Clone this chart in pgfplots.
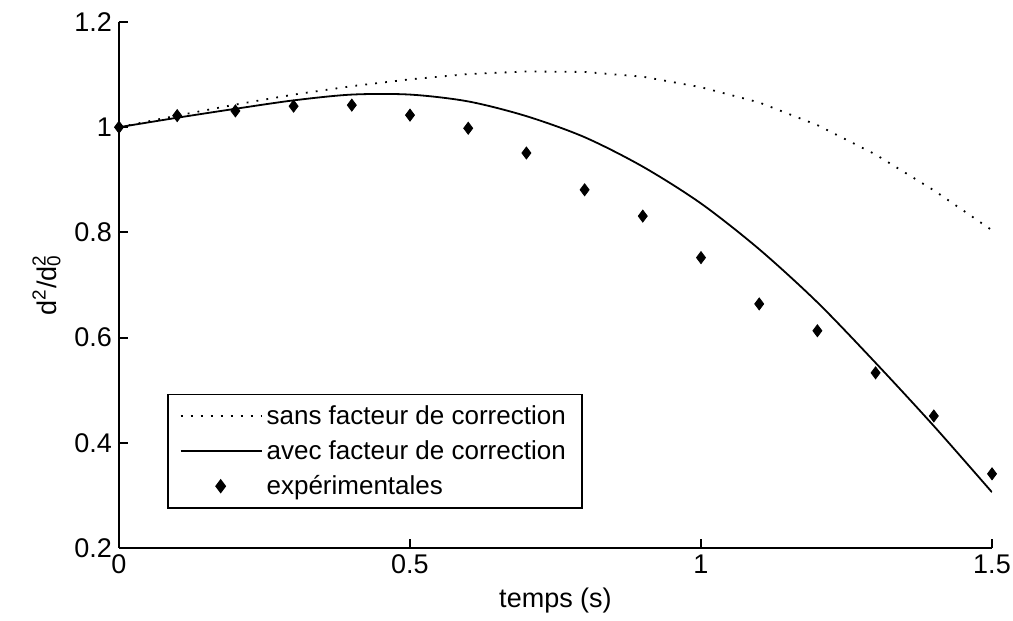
\documentclass[border=0pt]{standalone}
\usepackage{fontspec}
\setmainfont{Liberation Sans}
\usepackage{pgfplots}
\pgfplotsset{compat=1.18}
\pgfplotsset{
    lineleg/.style={legend image code/.code={\draw[##1] (0pt,0pt) -- (40.5pt,0pt);}},
    markleg/.style={legend image code/.code={\draw[##1] plot coordinates {(20pt,0pt)};}},
}

\begin{document}
\begin{tikzpicture}
\useasboundingbox (-59.5pt,-36.5pt) rectangle (447pt,274pt);
\begin{axis}[
    scale only axis,
    width=436.5pt, height=263pt,
    xmin=0, xmax=1.5,
    ymin=0.2, ymax=1.2,
    axis lines=left,
    axis line style={-, line width=1pt},
    tick align=inside,
    major tick length=4.5pt,
    tick style={black, line width=1pt},
    xtick={0,0.5,1,1.5},
    ytick={0.2,0.4,0.6,0.8,1,1.2},
    /pgf/number format/assume math mode=true,
    tick label style={font=\fontsize{13.5}{16}\selectfont},
    label style={font=\fontsize{13.5}{16}\selectfont},
    xlabel={temps (s)},
    ylabel={d\textsuperscript{2}/d\rlap{\textsuperscript{2}}\textsubscript{0}},
    legend cell align=left,
    legend style={
        at={(rel axis cs:0.055,0.074)}, anchor=south west,
        draw=black, line width=0.8pt,
        font=\fontsize{13}{15}\selectfont,
        inner xsep=6pt, inner ysep=3.5pt,
        row sep=2.5pt,
        /tikz/every even column/.append style={column sep=2pt},
    },
]
\addplot[black, line width=0.9pt, dash pattern=on 0.9pt off 4.1pt, lineleg]
coordinates {
    (0,1.0) (0.1,1.022) (0.2,1.043) (0.3,1.062) (0.4,1.078)
    (0.5,1.091) (0.6,1.101) (0.7,1.106) (0.8,1.105) (0.9,1.096)
    (1.0,1.076) (1.1,1.047) (1.2,1.004) (1.3,0.948) (1.4,0.880)
    (1.5,0.804)
};
\addlegendentry{sans facteur de correction}

\addplot[black, line width=0.9pt, smooth, lineleg]
coordinates {
    (0,1.0) (0.1,1.018) (0.2,1.035) (0.3,1.051) (0.4,1.062)
    (0.5,1.062) (0.6,1.049) (0.7,1.021) (0.8,0.981)
    (0.9,0.925) (1.0,0.855) (1.1,0.768) (1.2,0.667) (1.3,0.552)
    (1.4,0.432) (1.5,0.306)
};
\addlegendentry{avec facteur de correction}

\addplot[only marks, mark=diamond*, mark size=3pt, black, markleg]
coordinates {
    (0,1.0) (0.1,1.022) (0.2,1.031) (0.3,1.040) (0.4,1.042)
    (0.5,1.023) (0.6,0.998) (0.7,0.951) (0.8,0.881) (0.9,0.831)
    (1.0,0.752) (1.1,0.664) (1.2,0.613) (1.3,0.533) (1.4,0.451)
    (1.5,0.341)
};
\addlegendentry{expérimentales}
\end{axis}
\end{tikzpicture}
\end{document}
